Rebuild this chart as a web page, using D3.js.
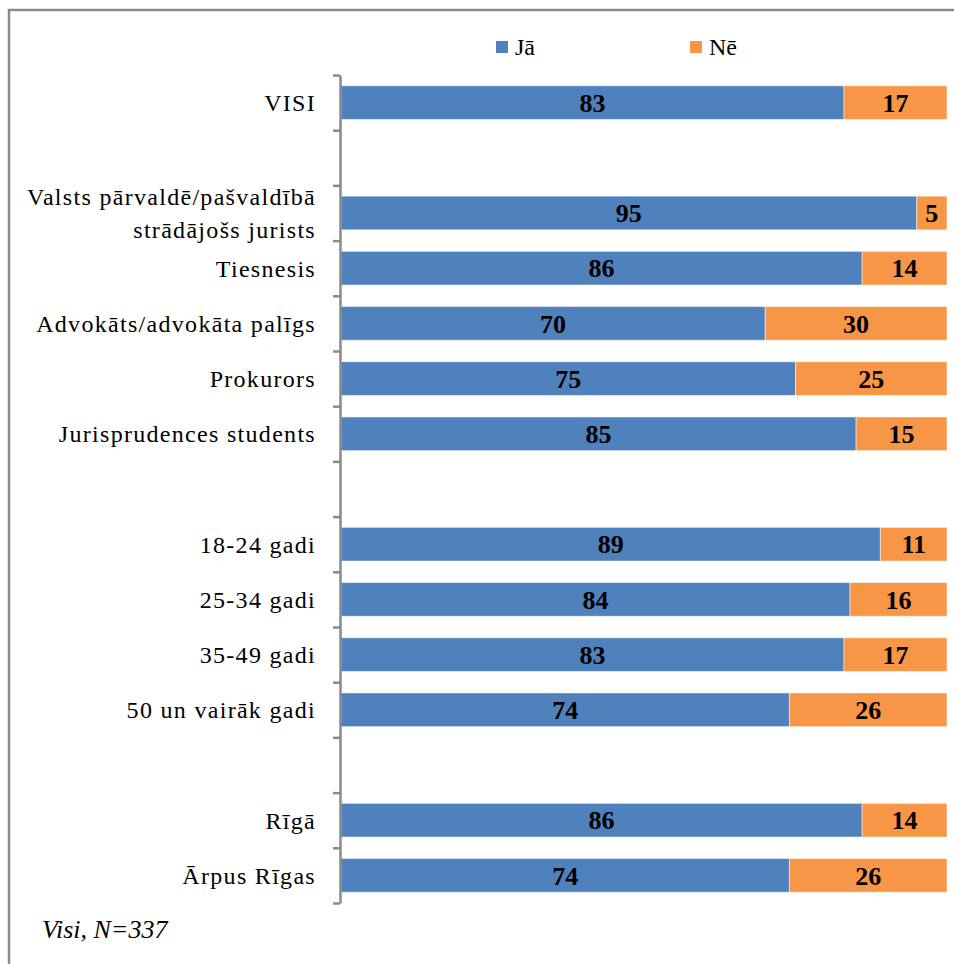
<!DOCTYPE html>
<html><head><meta charset="utf-8">
<script src="https://cdn.jsdelivr.net/npm/d3@7"></script>
<style>body{margin:0;background:#fff}svg{display:block}</style>
</head><body>
<script>
const categories = ["VISI","gap1","Valsts pārvaldē/pašvaldībā\nstrādājošs jurists","Tiesnesis","Advokāts/advokāta palīgs","Prokurors","Jurisprudences students","gap2","18-24 gadi","25-34 gadi","35-49 gadi","50 un vairāk gadi","gap3","Rīgā","Ārpus Rīgas"];
const jaValues = [83,null,95,86,70,75,85,null,89,84,83,74,null,86,74];
const neValues = [17,null,5,14,30,25,15,null,11,16,17,26,null,14,26];
const seriesNames = ["Jā","Nē"];
const colors = ["#4F81BD","#F79646"];
const footnote = "Visi, N=337";

const W=954,H=964;
const svg=d3.select("body").append("svg").attr("width",W).attr("height",H);
const font="'Liberation Serif','Times New Roman',serif";

// frame
svg.append("rect").attr("x",9).attr("y",10).attr("width",W+20).attr("height",H+20)
  .attr("fill","none").attr("stroke","#8a8a8a").attr("stroke-width",2.5);

const x=d3.scaleLinear().domain([0,100]).range([341,947]);
const y=d3.scaleBand().domain(categories).range([75,903]).paddingInner(0.39).paddingOuter(0.195);
const yIdx=d3.scaleLinear().domain([0,categories.length]).range([75,903]);

const rows=categories.map((c,i)=>({c,ja:jaValues[i],ne:neValues[i]})).filter(d=>d.ja!=null);

const g=svg.append("g");
g.selectAll("rect.ja").data(rows).join("rect").attr("class","ja")
  .attr("x",x(0)).attr("y",d=>y(d.c)).attr("width",d=>x(d.ja)-x(0)).attr("height",y.bandwidth())
  .attr("fill",colors[0]).attr("stroke","#fff").attr("stroke-opacity",0.5).attr("stroke-width",1);
g.selectAll("rect.ne").data(rows).join("rect").attr("class","ne")
  .attr("x",d=>x(d.ja)).attr("y",d=>y(d.c)).attr("width",d=>x(d.ja+d.ne)-x(d.ja)).attr("height",y.bandwidth())
  .attr("fill",colors[1]).attr("stroke","#fff").attr("stroke-opacity",0.5).attr("stroke-width",1);

g.selectAll("text.vja").data(rows).join("text")
  .attr("x",d=>x(d.ja/2)).attr("y",d=>y(d.c)+y.bandwidth()/2).attr("dy","0.35em")
  .attr("text-anchor","middle").attr("font-family",font).attr("font-weight","bold").attr("font-size",26)
  .text(d=>d.ja);
g.selectAll("text.vne").data(rows).join("text")
  .attr("x",d=>x(d.ja+d.ne/2)).attr("y",d=>y(d.c)+y.bandwidth()/2).attr("dy","0.35em")
  .attr("text-anchor","middle").attr("font-family",font).attr("font-weight","bold").attr("font-size",26)
  .text(d=>d.ne);

const ax=svg.append("g").attr("transform","translate(340,0)")
  .call(d3.axisLeft(yIdx).tickValues(d3.range(categories.length+1)).tickSize(7).tickSizeOuter(0).tickFormat(""));
ax.selectAll("path,line").attr("stroke","#8a8a8a").attr("stroke-width",2.5);

const lab=svg.append("g");
categories.forEach(c=>{
  if(c.startsWith("gap")) return;
  const lines=c.split("\n");
  const cy=y(c)+y.bandwidth()/2;
  const t=lab.append("text").attr("text-anchor","end").attr("font-family",font).attr("font-size",24)
    .attr("letter-spacing","1.3px");
  lines.forEach((l,i)=>{
    t.append("tspan").attr("x",316).attr("y",cy+(i-(lines.length-1)/2)*33).attr("dy","0.35em").text(l);
  });
});

const leg=svg.append("g");
[[496,515],[690,709]].forEach((p,i)=>{
  leg.append("rect").attr("x",p[0]).attr("y",41).attr("width",12).attr("height",12).attr("fill",colors[i]);
  leg.append("text").attr("x",p[1]).attr("y",47).attr("dy","0.35em").attr("font-family",font).attr("font-size",24).text(seriesNames[i]);
});

svg.append("text").attr("x",42).attr("y",938).attr("font-family",font).attr("font-style","italic").attr("font-size",26).text(footnote);
</script>
</body></html>
